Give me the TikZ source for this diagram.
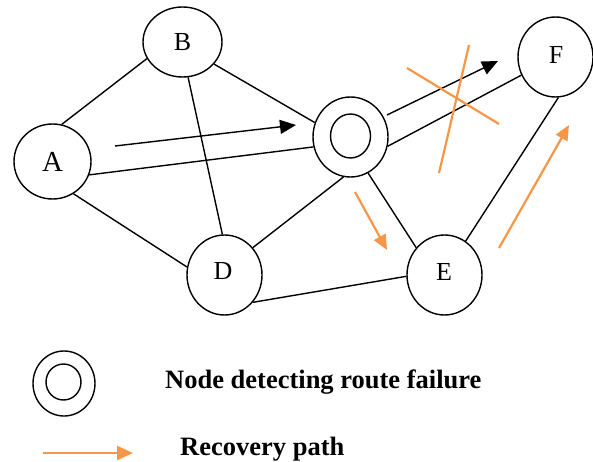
\documentclass[tikz,border=0pt]{standalone}
\usepackage{fontspec}
\setmainfont{Liberation Serif}
\usetikzlibrary{shapes.geometric,arrows.meta}
\definecolor{recov}{HTML}{F79646}
\begin{document}
\begin{tikzpicture}[x=1pt,y=-1pt,
  netnode/.style={draw,ellipse,line width=1.4pt,inner sep=0pt,font=\fontsize{26}{30}\selectfont},
  link/.style={line width=1.4pt},
  flow/.style={line width=1.4pt,-{Triangle[length=16pt,width=14pt]}},
  recovery/.style={recov,line width=2.2pt,-{Triangle[length=15pt,width=13pt]}},
  cross/.style={recov,line width=2.2pt},
  legendtext/.style={anchor=base west,inner sep=0pt,font=\fontsize{26.5}{30}\selectfont\bfseries}]
\useasboundingbox (0,0) rectangle (593,462);
% nodes
\node[netnode,minimum width=77pt,minimum height=75pt,font=\fontsize{29}{32}\selectfont] (A) at (52.5,161.5) {A};
\node[netnode,minimum width=79pt,minimum height=70pt] (B) at (182.5,42) {B};
\node[netnode,minimum width=75pt,minimum height=80pt] (C) at (350.5,137) {};
\node[netnode,minimum width=40pt,minimum height=44pt] (Ci) at (350.5,136) {};
\node[netnode,minimum width=75pt,minimum height=80pt] (D) at (224.5,275) {};
\node[font=\fontsize{26}{30}\selectfont] (Dl) at (223,271) {D};
\node[netnode,minimum width=75pt,minimum height=80pt] (E) at (444.5,275) {};
\node[font=\fontsize{26}{30}\selectfont] (El) at (444,272) {E};
\node[netnode,minimum width=75pt,minimum height=80pt] (F) at (555.5,57) {};
\node[font=\fontsize{26}{30}\selectfont] (Fl) at (556,55) {F};
% links
\draw[link] (A.76.9) -- (B.-155.5);
\draw[link] (B.-35.6) -- (C.158.5);
\draw[link] (B.-81) -- (D.93.6);
\draw[link] (A.-20.6) -- (C.-165.4);
\draw[link] (A.-57.9) -- (D.168);
\draw[link] (D.44.4) -- (C.-100.6);
\draw[link] (D.-44.5) -- (E.-178.5);
\draw[link] (C.-64) -- (E.136.8);
\draw[link] (C.-14.6) -- (F.-152);
\draw[link] (E.58.5) -- (F.-86.2);
% original route arrows
\coordinate (r1s) at (115,146); \coordinate (r1e) at (296,125);
\coordinate (r2s) at (387,115); \coordinate (r2e) at (498,61);
\draw[flow] (r1s) -- (r1e);
\draw[flow] (r2s) -- (r2e);
% broken link cross
\coordinate (x1s) at (407,68); \coordinate (x1e) at (499,124);
\coordinate (x2s) at (469,45); \coordinate (x2e) at (439,173);
\draw[cross] (x1s) -- (x1e);
\draw[cross] (x2s) -- (x2e);
% recovery arrows
\coordinate (o1s) at (355,192); \coordinate (o1e) at (387,250);
\coordinate (o2s) at (499,248); \coordinate (o2e) at (569,125);
\draw[recovery] (o1s) -- (o1e);
\draw[recovery] (o2s) -- (o2e);
% legend
\node[netnode,minimum width=62pt,minimum height=65pt] (L) at (64,383.5) {};
\node[netnode,minimum width=35pt,minimum height=36pt] (Li) at (63.5,382) {};
\node[legendtext] (t1) at (165,388) {Node detecting route failure};
\coordinate (ls) at (43,453); \coordinate (le) at (133,453);
\draw[recovery,-{Triangle[length=16pt,width=14pt]}] (ls) -- (le);
\node[legendtext] (t2) at (180,455) {Recovery path};
\end{tikzpicture}
\end{document}
